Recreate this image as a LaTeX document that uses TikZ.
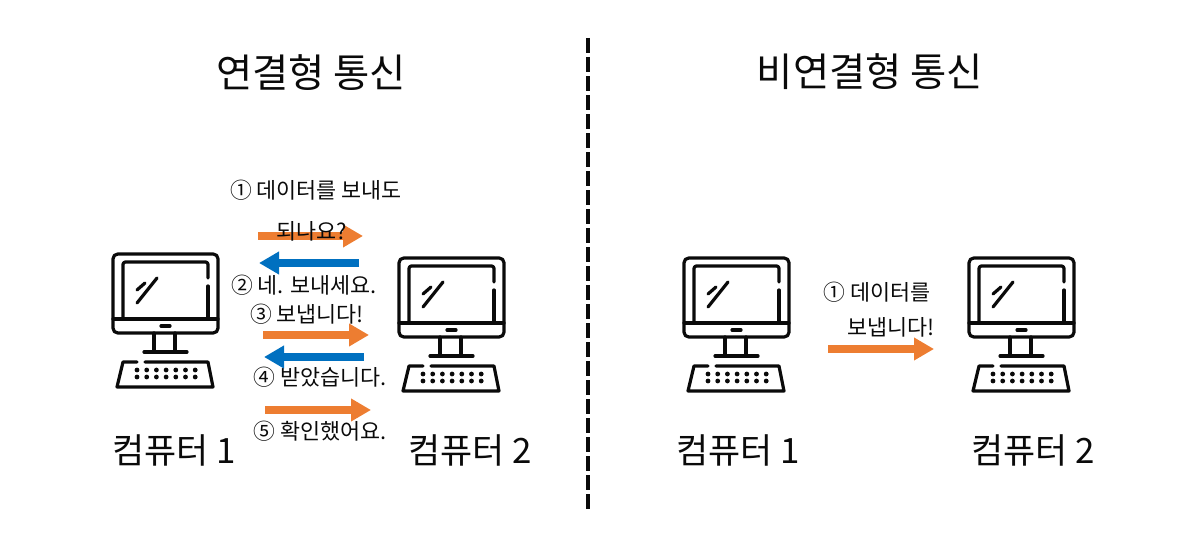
\documentclass[tikz,border=0pt]{standalone}
\usepackage{fontspec}
\setmainfont{Noto Sans CJK KR}
\usepackage{xcolor}
\usetikzlibrary{arrows.meta}
\definecolor{myorange}{RGB}{237,125,49}
\definecolor{myblue}{RGB}{0,112,192}
\definecolor{mydark}{RGB}{10,10,10}
\tikzset{
  titletext/.style={font=\fontsize{28}{32}\selectfont, color=mydark, inner sep=0pt},
  pclabel/.style={font=\fontsize{24.8}{29}\selectfont, color=mydark, inner sep=0pt},
  msg/.style={font=\fontsize{15.5}{18}\selectfont, color=mydark, inner sep=0pt},
  dataarrow/.style={-{Triangle[length=0.5cm,width=0.54cm]}, line width=0.2cm},
  pcline/.style={line width=0.08cm, color=mydark, line cap=round, line join=round},
  pics/computer/.style={code={
    % monitor
    \draw[pcline, rounded corners=0.12cm] (0,0) rectangle (105,79);
    \draw[pcline, rounded corners=0.06cm] (95,24) -- (95,8) -- (10,8) -- (10,65);
    \draw[pcline] (95,32) -- (95,65);
    \draw[pcline] (0,65) -- (105,65);
    \draw[pcline] (48,72) -- (57,72);
    % glare
    \draw[pcline] (24,49) -- (44,24);
    \draw[pcline] (24,36) -- (32,29);
    % stand
    \draw[pcline] (41,79) -- (41,97);
    \draw[pcline] (62,79) -- (62,97);
    \draw[pcline] (31,98) -- (74,98);
    % keyboard
    \draw[pcline] (24,108) -- (10,108) -- (4,133) -- (100,133) -- (95,108) -- (32,108);
    \foreach \row in {116,123}
      \foreach \col in {0,...,6}
        \fill[color=mydark] ({24+\col*9.7},\row) circle (0.06cm);
  }}
}
\begin{document}
\begin{tikzpicture}[x=0.025cm, y=-0.025cm]
  \useasboundingbox (0,0) rectangle (1181,536);

  % Divider
  \coordinate (divtop) at (588,38);
  \coordinate (divbot) at (588,512);
  \draw[line width=0.11cm, color=mydark, dash pattern=on 0.37cm off 0.105cm] (divtop) -- (divbot);

  % Titles
  \node[titletext] (connTitle) at (311,73) {연결형 통신};
  \node[titletext] (lessTitle) at (870,72) {비연결형 통신};

  % Computers
  \pic (connA) at (113,254) {computer};
  \pic (connB) at (399,258) {computer};
  \pic (lessA) at (684,258) {computer};
  \pic (lessB) at (969,258) {computer};

  \node[pclabel] (connAname) at (174,450) {컴퓨터 1};
  \node[pclabel] (connBname) at (470,450) {컴퓨터 2};
  \node[pclabel] (lessAname) at (738,450) {컴퓨터 1};
  \node[pclabel] (lessBname) at (1033,450) {컴퓨터 2};

  % Arrow ends
  \coordinate (askS) at (258,236);  \coordinate (askE) at (363,236);
  \coordinate (okS) at (359,263);   \coordinate (okE) at (259,263);
  \coordinate (sendS) at (263,335); \coordinate (sendE) at (369,335);
  \coordinate (gotS) at (364,357);  \coordinate (gotE) at (264,357);
  \coordinate (ackS) at (265,410);  \coordinate (ackE) at (371,410);
  \coordinate (dataS) at (828,349); \coordinate (dataE) at (934,349);

  \draw[dataarrow, color=myorange] (askS) -- (askE);
  \draw[dataarrow, color=myblue] (okS) -- (okE);
  \draw[dataarrow, color=myorange] (sendS) -- (sendE);
  \draw[dataarrow, color=myblue] (gotS) -- (gotE);
  \draw[dataarrow, color=myorange] (ackS) -- (ackE);
  \draw[dataarrow, color=myorange] (dataS) -- (dataE);

  % Messages
  \node[msg] (askA) at (316,190) {① 데이터를 보내도};
  \node[msg] (askB) at (312,231) {되나요?};
  \node[msg] (okText) at (304,285) {② 네. 보내세요.};
  \node[msg] (sendText) at (307,314) {③ 보냅니다!};
  \node[msg] (gotText) at (320,377) {④ 받았습니다.};
  \node[msg] (ackText) at (320,431) {⑤ 확인했어요.};
  \node[msg] (dataA) at (877,292) {① 데이터를};
  \node[msg] (dataB) at (891,327) {보냅니다!};
\end{tikzpicture}
\end{document}
